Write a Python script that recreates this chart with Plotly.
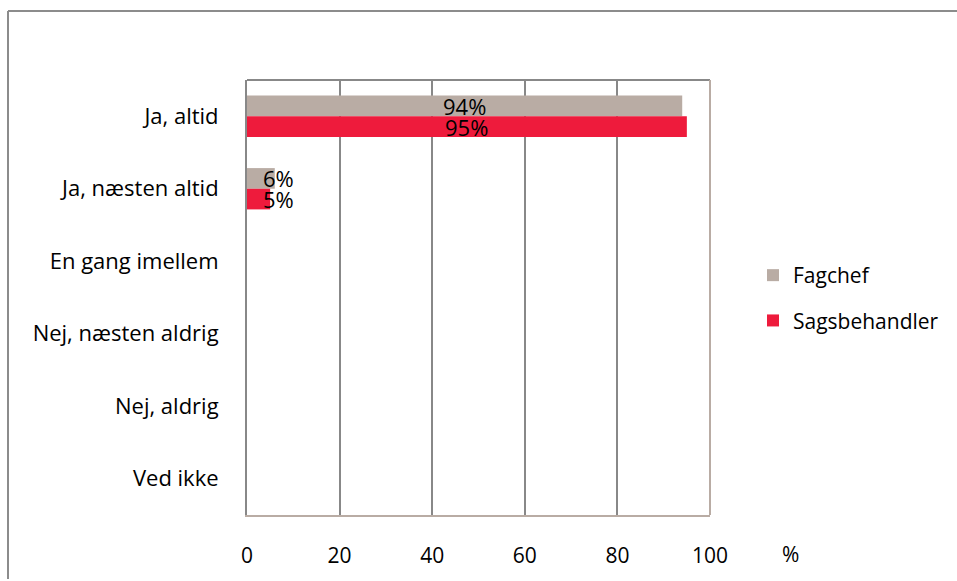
import plotly.graph_objects as go

# Survey answers (top to bottom) and the share of each respondent group, in %
categories = ["Ja, altid", "Ja, næsten altid", "En gang imellem",
              "Nej, næsten aldrig", "Nej, aldrig", "Ved ikke"]
fagchef = [94, 6, 0, 0, 0, 0]
sagsbehandler = [95, 5, 0, 0, 0, 0]
x_ticks = [0, 20, 40, 60, 80, 100]

GREY = "#B9ACA4"
RED = "#EE1B3C"
GRID = "#888888"
FONT = "'Open Sans', Lato, sans-serif"
FS = 22

W, H = 957, 581
L, R, T, B = 247, 247, 80, 60
plot_w = W - L - R
plot_h = H - T - B

fig = go.Figure()
fig.add_trace(go.Bar(name="Fagchef", y=categories, x=fagchef, orientation="h",
                     marker=dict(color=GREY, line=dict(width=0)), legendgroup="a",
                     hoverinfo="skip"))
fig.add_trace(go.Bar(name="Sagsbehandler", y=categories, x=sagsbehandler, orientation="h",
                     marker=dict(color=RED, line=dict(width=0)), legendgroup="b",
                     hoverinfo="skip"))

# Value labels: centred in wide bars, set just right of the axis for narrow ones
annotations = []
for values, shift in ((fagchef, 10.5), (sagsbehandler, -10.5)):
    for cat, v in zip(categories, values):
        if v <= 0:
            continue
        if v >= 20:
            annotations.append(dict(x=v / 2, y=cat, xref="x", yref="y", text=f"{v}%",
                                    showarrow=False, xanchor="center", yanchor="middle",
                                    yshift=shift, font=dict(size=FS, color="black", family=FONT)))
        else:
            annotations.append(dict(x=0, y=cat, xref="x", yref="y", text=f"{v}%",
                                    showarrow=False, xanchor="left", yanchor="middle",
                                    xshift=14, yshift=shift,
                                    font=dict(size=FS, color="black", family=FONT)))

# Unit label after the last x tick
annotations.append(dict(x=(790 - L) / plot_w, y=(H - B - 561) / plot_h, xref="paper", yref="paper",
                        text="%", showarrow=False, xanchor="center", yanchor="middle",
                        font=dict(size=21, color="black", family=FONT)))

shapes = [
    # plot-area border: grey top, tan right
    dict(type="line", xref="paper", yref="paper", x0=0, x1=1, y0=1, y1=1,
         line=dict(color=GRID, width=2)),
    dict(type="line", xref="paper", yref="paper", x0=1, x1=1, y0=0, y1=1,
         line=dict(color=GREY, width=2)),
    # outer chart frame (top and left edges visible)
    dict(type="line", xref="paper", yref="paper",
         x0=(8 - L) / plot_w, x1=(W + 5 - L) / plot_w,
         y0=(H - B - 10) / plot_h, y1=(H - B - 10) / plot_h,
         line=dict(color="#8c8c8c", width=2)),
    dict(type="line", xref="paper", yref="paper",
         x0=(8 - L) / plot_w, x1=(8 - L) / plot_w,
         y0=(H - B - 10) / plot_h, y1=(H - B - H - 5) / plot_h,
         line=dict(color="#8c8c8c", width=2)),
]

fig.update_layout(
    width=W, height=H,
    margin=dict(l=L, r=R, t=T, b=B),
    paper_bgcolor="white", plot_bgcolor="white",
    barmode="group", bargap=0.43, bargroupgap=0,
    font=dict(family=FONT, size=FS, color="black"),
    showlegend=True,
    legend=dict(x=(753 - L) / plot_w, xanchor="left", y=(H - B - 301) / plot_h, yanchor="middle",
                traceorder="grouped", tracegroupgap=15, font=dict(size=21, family=FONT),
                bgcolor="rgba(0,0,0,0)", itemclick=False),
    annotations=annotations,
    shapes=shapes,
)
fig.update_xaxes(range=[0, 100], tickvals=x_ticks, ticktext=[str(t) for t in x_ticks],
                 showgrid=True, gridcolor=GRID, gridwidth=2, zeroline=False,
                 showline=True, linecolor=GREY, linewidth=2, ticks="",
                 ticklabelstandoff=21, tickfont=dict(size=21, family=FONT), fixedrange=True)
fig.update_yaxes(categoryorder="array", categoryarray=categories, autorange="reversed",
                 showgrid=False, zeroline=False, showline=True, linecolor=GRID, linewidth=2,
                 ticks="", ticklabelstandoff=22, tickfont=dict(size=FS, family=FONT), fixedrange=True)

fig.write_html("out.html", config=dict(displayModeBar=False))
